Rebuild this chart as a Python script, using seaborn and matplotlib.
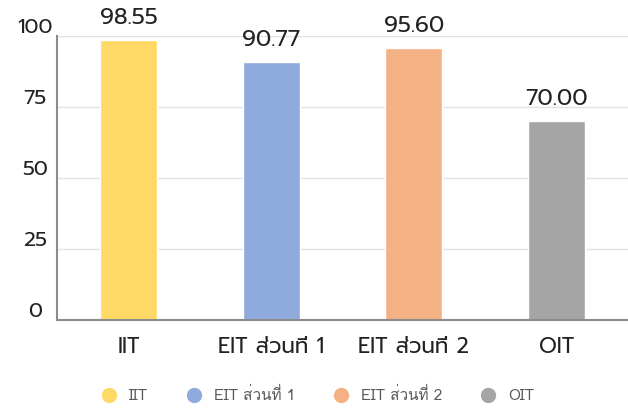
import matplotlib
matplotlib.use('Agg')
import matplotlib.pyplot as plt
import matplotlib.transforms as mtransforms
from matplotlib.lines import Line2D
import seaborn as sns
import pandas as pd

categories = ['IIT', 'EIT ส่วนที่ 1', 'EIT ส่วนที่ 2', 'OIT']
scores = [98.55, 90.77, 95.60, 70.00]
colors = ['#FFD966', '#8FAADC', '#F4B183', '#A5A5A5']
y_ticks = [0, 25, 50, 75, 100]

sns.set_style('white')
plt.rcParams['font.family'] = ['Prompt', 'DejaVu Sans']

df = pd.DataFrame({'cat': categories, 'score': scores})

fig = plt.figure(figsize=(6.28, 4.08), dpi=100)
ax = fig.add_axes([0.091, 0.216, 0.909, 0.696])
sns.barplot(data=df, x='cat', y='score', hue='cat', palette=colors,
            width=0.4, legend=False, ax=ax, saturation=1)

ax.set_ylim(0, 100)
ax.set_yticks(y_ticks)
ax.yaxis.grid(True, color='#E3E3E3', linewidth=1)
ax.set_axisbelow(True)
ax.set_xlabel('')
ax.set_ylabel('')
for s in ['top', 'right']:
    ax.spines[s].set_visible(False)
for s in ['left', 'bottom']:
    ax.spines[s].set_color('#8C8C8C')
    ax.spines[s].set_linewidth(1.5)
ax.tick_params(axis='both', length=0, colors='#222222')
ax.tick_params(axis='x', labelsize=15.5, pad=12)
ax.tick_params(axis='y', labelsize=15, pad=16)
# y labels sit a bit above their gridlines in the original
shift = mtransforms.ScaledTranslation(0, 0.1, fig.dpi_scale_trans)
for lbl in ax.get_yticklabels():
    lbl.set_horizontalalignment('center')
    lbl.set_transform(lbl.get_transform() + shift)

for i, v in enumerate(scores):
    ax.text(i, v + 4, f'{v:.2f}', ha='center', va='bottom', fontsize=16.5,
            color='#222222', clip_on=False)

handles = [Line2D([], [], marker='o', linestyle='', markersize=10,
                  markerfacecolor=c, markeredgecolor=c) for c in colors]
fig.legend(handles, categories, loc='center', bbox_to_anchor=(0.5, 0.032),
           ncol=4, frameon=False, handletextpad=0.3, columnspacing=2.0,
           labelcolor='#595959',
           prop={'family': ['Loma', 'DejaVu Sans'], 'size': 11})

fig.savefig('out.png', dpi=100)
